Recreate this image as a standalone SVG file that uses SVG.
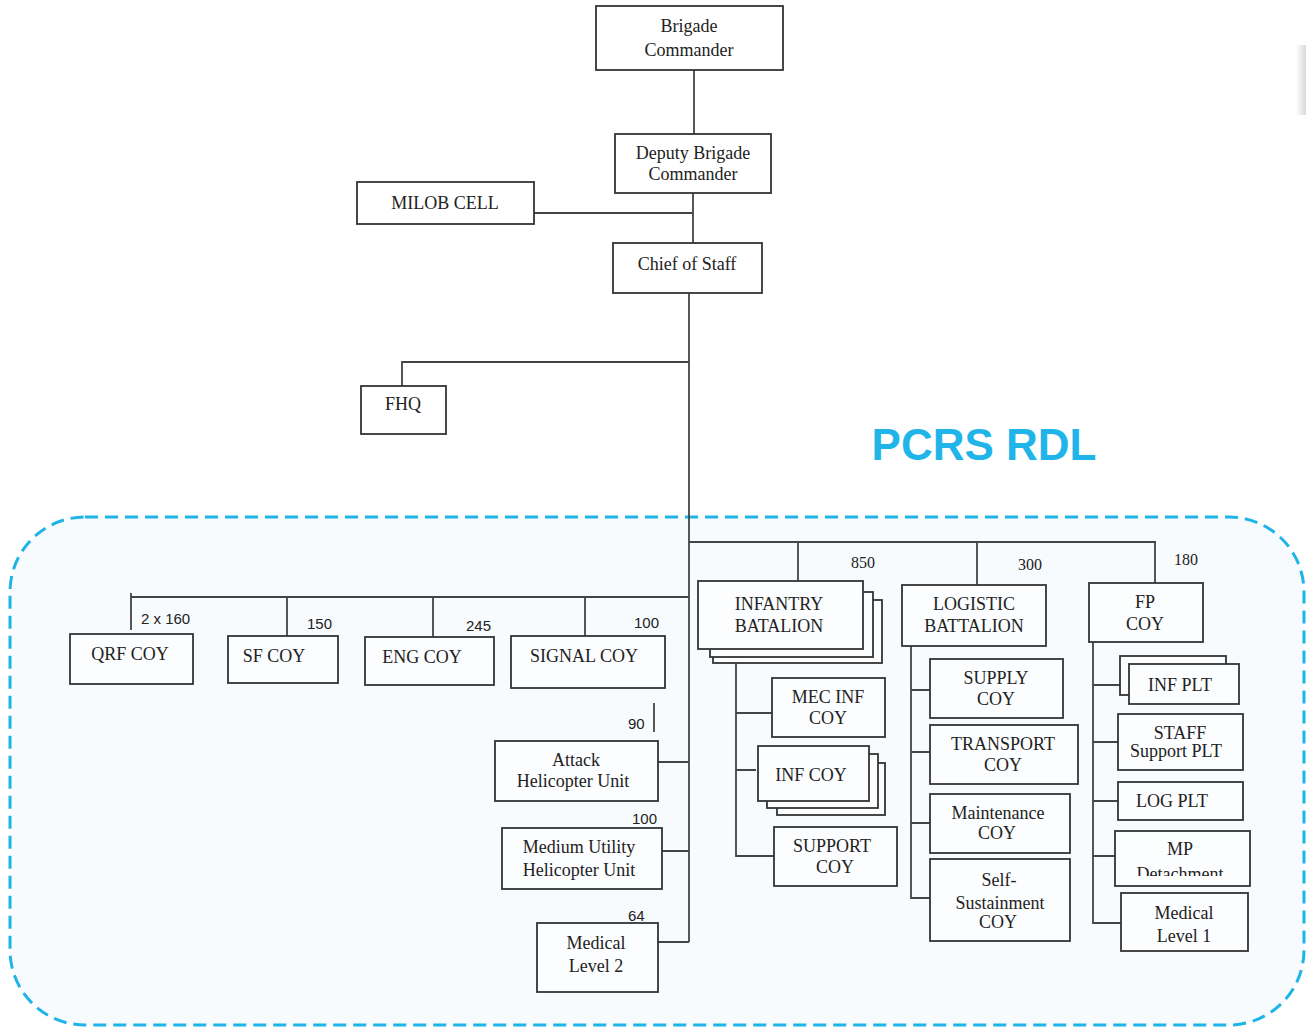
<svg xmlns="http://www.w3.org/2000/svg" width="1306" height="1027" viewBox="0 0 1306 1027">
<style>
.b{fill:#ffffff;stroke:#333333;stroke-width:1.8}
.bi{fill:#fbfdfe;stroke:#333333;stroke-width:1.8}
.c{fill:none;stroke:#444444;stroke-width:1.8}
.t{font-family:"Liberation Serif","Times New Roman",serif;fill:#222222;text-anchor:middle;font-size:18px}
.n{font-family:"Liberation Sans",Arial,sans-serif;fill:#222222;font-size:15px}
.ns{font-family:"Liberation Serif","Times New Roman",serif;fill:#222222;font-size:16px}
</style>
<defs>
<linearGradient id="sh" x1="0" x2="1" y1="0" y2="0">
<stop offset="0" stop-color="#ffffff"/>
<stop offset="1" stop-color="#d8d8d8"/>
</linearGradient>
<clipPath id="mpclip"><rect x="1115" y="831" width="135" height="45"/></clipPath>
</defs>
<rect width="1306" height="1027" fill="#ffffff"/>
<rect x="1296" y="45" width="10" height="70" fill="url(#sh)"/>
<rect x="10" y="517" width="1294" height="508" rx="75" ry="75" fill="#f7fbfd" stroke="#1eb4e8" stroke-width="3" stroke-dasharray="13 7"/>
<text x="984" y="460" font-family="Liberation Sans,Arial,sans-serif" font-weight="bold" font-size="44" fill="#1fb5e8" text-anchor="middle">PCRS RDL</text>

<g id="connectors">
<path class="c" d="M694 70V134"/>
<path class="c" d="M693 193V243"/>
<path class="c" d="M534 213H693"/>
<path class="c" d="M689 293V942"/>
<path class="c" d="M402 386V362H689"/>
<path class="c" d="M131 593V630M131 597H689"/>
<path class="c" d="M287 597V636M433 597V637M585 597V636"/>
<path class="c" d="M689 542H1156"/>
<path class="c" d="M798 542V581M977 542V585M1155 542V583"/>
<path class="c" d="M654 703V732"/>
<path class="c" d="M658 762H689M662 851H689M658 942H689"/>
<path class="c" d="M736 663V856H774M736 713H772M736 770H756"/>
<path class="c" d="M911 646V898H930M911 690H930M911 752H930M911 823H930"/>
<path class="c" d="M1093 642V923H1121M1093 685H1120M1093 742H1118M1093 801H1118M1093 856H1115"/>
</g>

<g id="brigade-commander">
<rect class="b" x="596" y="6" width="187" height="64"/>
<text class="t" x="689" y="32" font-size="20.5">Brigade</text>
<text class="t" x="689" y="56" font-size="20.5">Commander</text>
</g>
<g id="deputy-brigade-commander">
<rect class="b" x="615" y="134" width="156" height="59"/>
<text class="t" x="693" y="159" font-size="17.5">Deputy Brigade</text>
<text class="t" x="693" y="180" font-size="17.5">Commander</text>
</g>
<g id="milob-cell">
<rect class="b" x="357" y="182" width="177" height="42"/>
<text class="t" x="445" y="209" font-size="17.5">MILOB CELL</text>
</g>
<g id="chief-of-staff">
<rect class="b" x="613" y="243" width="149" height="50"/>
<text class="t" x="687" y="270" font-size="18.5">Chief of Staff</text>
</g>
<g id="fhq">
<rect class="b" x="361" y="386" width="85" height="48"/>
<text class="t" x="403" y="410" font-size="15">FHQ</text>
</g>

<g id="qrf-coy">
<text class="n" x="141" y="624">2 x 160</text>
<rect class="bi" x="70" y="634" width="123" height="50"/>
<text class="t" x="130" y="660">QRF COY</text>
</g>
<g id="sf-coy">
<text class="n" x="307" y="629">150</text>
<rect class="bi" x="228" y="636" width="110" height="47"/>
<text class="t" x="274" y="662">SF COY</text>
</g>
<g id="eng-coy">
<text class="n" x="466" y="631">245</text>
<rect class="bi" x="365" y="637" width="129" height="48"/>
<text class="t" x="422" y="663">ENG COY</text>
</g>
<g id="signal-coy">
<text class="n" x="634" y="628">100</text>
<rect class="bi" x="511" y="636" width="154" height="52"/>
<text class="t" x="584" y="662">SIGNAL COY</text>
</g>

<g id="attack-helicopter-unit">
<text class="n" x="628" y="729">90</text>
<rect class="bi" x="495" y="741" width="163" height="60"/>
<text class="t" x="576" y="766">Attack</text>
<text class="t" x="573" y="787">Helicopter Unit</text>
</g>
<g id="medium-utility-helicopter-unit">
<text class="n" x="632" y="824">100</text>
<rect class="bi" x="502" y="828" width="160" height="61"/>
<text class="t" x="579" y="853">Medium Utility</text>
<text class="t" x="579" y="876">Helicopter Unit</text>
</g>
<g id="medical-level-2">
<text class="n" x="628" y="921">64</text>
<rect class="bi" x="537" y="923" width="121" height="69"/>
<text class="t" x="596" y="949">Medical</text>
<text class="t" x="596" y="972">Level 2</text>
</g>

<g id="infantry-batalion">
<text class="ns" x="851" y="568">850</text>
<rect class="bi" x="713" y="600" width="169" height="63"/>
<rect class="bi" x="710" y="592" width="163" height="65"/>
<rect class="bi" x="698" y="581" width="165" height="68"/>
<text class="t" x="779" y="610">INFANTRY</text>
<text class="t" x="779" y="632">BATALION</text>
</g>
<g id="mec-inf-coy">
<rect class="bi" x="772" y="678" width="113" height="59"/>
<text class="t" x="828" y="703">MEC INF</text>
<text class="t" x="828" y="724">COY</text>
</g>
<g id="inf-coy">
<rect class="bi" x="777" y="763" width="108" height="52"/>
<rect class="bi" x="767" y="754" width="111" height="54"/>
<rect class="bi" x="758" y="746" width="111" height="55"/>
<text class="t" x="811" y="781">INF COY</text>
</g>
<g id="support-coy">
<rect class="bi" x="774" y="827" width="123" height="59"/>
<text class="t" x="832" y="852">SUPPORT</text>
<text class="t" x="835" y="873">COY</text>
</g>

<g id="logistic-battalion">
<text class="ns" x="1018" y="570">300</text>
<rect class="bi" x="902" y="585" width="144" height="61"/>
<text class="t" x="974" y="610">LOGISTIC</text>
<text class="t" x="974" y="632">BATTALION</text>
</g>
<g id="supply-coy">
<rect class="bi" x="930" y="659" width="133" height="59"/>
<text class="t" x="996" y="684">SUPPLY</text>
<text class="t" x="996" y="705">COY</text>
</g>
<g id="transport-coy">
<rect class="bi" x="930" y="725" width="148" height="59"/>
<text class="t" x="1003" y="750">TRANSPORT</text>
<text class="t" x="1003" y="771">COY</text>
</g>
<g id="maintenance-coy">
<rect class="bi" x="930" y="794" width="140" height="59"/>
<text class="t" x="998" y="819" font-size="17">Maintenance</text>
<text class="t" x="997" y="839">COY</text>
</g>
<g id="self-sustainment-coy">
<rect class="bi" x="930" y="859" width="140" height="82"/>
<text class="t" x="999" y="886" font-size="17">Self-</text>
<text class="t" x="1000" y="909" font-size="17">Sustainment</text>
<text class="t" x="998" y="928">COY</text>
</g>

<g id="fp-coy">
<text class="ns" x="1174" y="565">180</text>
<rect class="bi" x="1089" y="583" width="114" height="59"/>
<text class="t" x="1145" y="608">FP</text>
<text class="t" x="1145" y="630">COY</text>
</g>
<g id="inf-plt">
<rect class="bi" x="1120" y="656" width="106" height="39"/>
<rect class="bi" x="1129" y="664" width="110" height="40"/>
<text class="t" x="1180" y="691">INF PLT</text>
</g>
<g id="staff-support-plt">
<rect class="bi" x="1118" y="714" width="125" height="56"/>
<text class="t" x="1180" y="739" font-size="14">STAFF</text>
<text class="t" x="1176" y="757" font-size="14">Support PLT</text>
</g>
<g id="log-plt">
<rect class="bi" x="1118" y="782" width="125" height="38"/>
<text class="t" x="1172" y="807">LOG PLT</text>
</g>
<g id="mp-detachment">
<rect class="bi" x="1115" y="831" width="135" height="55"/>
<text class="t" x="1180" y="855">MP</text>
<text class="t" x="1180" y="880" clip-path="url(#mpclip)">Detachment</text>
</g>
<g id="medical-level-1">
<rect class="bi" x="1121" y="893" width="127" height="58"/>
<text class="t" x="1184" y="919">Medical</text>
<text class="t" x="1184" y="942">Level 1</text>
</g>
</svg>
